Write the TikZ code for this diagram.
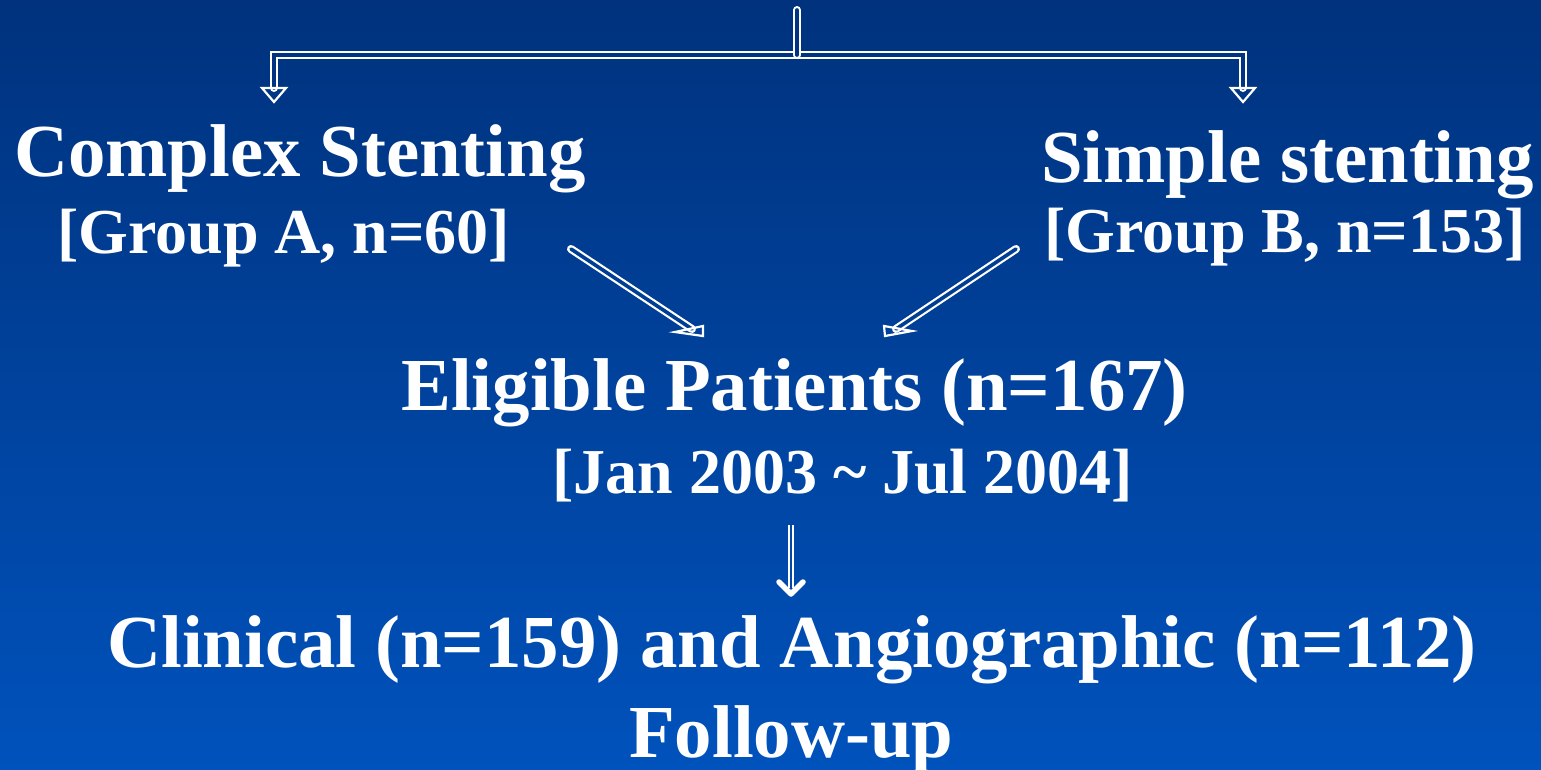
\documentclass[tikz,border=0pt]{standalone}
\usepackage{fontspec}
\setmainfont{Liberation Serif}
\definecolor{bgtop}{RGB}{0,50,125}
\definecolor{bgbot}{RGB}{0,82,188}
\definecolor{inTop}{RGB}{0,52,130}
\definecolor{inMid}{RGB}{0,62,148}
\definecolor{inBot}{RGB}{0,73,171}
\tikzset{
  dbl/.style={draw=white, line width=2.2pt, double distance=3.6pt, line cap=round, line join=miter},
  headshape/.style={draw=white, line width=2.2pt, line join=miter},
  lbl/.style={text=white, inner sep=0pt, anchor=base west, font=\bfseries\fontsize{74.8}{80}\selectfont},
  sublbl/.style={lbl, font=\bfseries\fontsize{64}{70}\selectfont}
}
\begin{document}
\begin{tikzpicture}[x=1pt,y=-1pt]
\shade[top color=bgtop,bottom color=bgbot] (0,0) rectangle (1541,769);
\useasboundingbox (0,0) rectangle (1541,769);

% texts
\node[lbl] (complex) at (14,176) {Complex Stenting};
\node[sublbl] (groupA) at (57,253) {[Group A, n=60]};
\node[lbl] (simple) at (1041,182) {Simple stenting};
\node[sublbl] (groupB) at (1044,252) {[Group B, n=153]};
\node[lbl] (eligible) at (401,410) {Eligible Patients (n=167)};
\node[sublbl] (dates) at (552,493) {[Jan 2003 \textasciitilde{} Jul 2004]};
\node[lbl] (clinical) at (107,667) {Clinical (n=159) and Angiographic (n=112)};
\node[lbl] (followup) at (629,757) {Follow-up};

% top split connector
\coordinate (src) at (797,10);
\coordinate (junc) at (797,55);
\coordinate (shaftA) at (274,88);
\coordinate (shaftB) at (1243,88);
\draw[dbl, double=inTop] (shaftA) |- (junc) -| (shaftB);
\draw[dbl, double=inTop] (src) -- (junc);
\draw[headshape] (shaftA) ++(-12,0) -- ++(24,0) -- ++(-12,14) -- cycle;
\draw[headshape] (shaftB) ++(-12,0) -- ++(24,0) -- ++(-12,14) -- cycle;

% diagonal arrows
\coordinate (tailL) at (571,249);
\coordinate (endL) at (692,329);
\draw[dbl, double=inMid] (tailL) -- (endL);
\draw[headshape] (endL) ++(-17,3) -- ++(28,-6) -- ++(0,10) -- cycle;

\coordinate (tailR) at (1016,249);
\coordinate (endR) at (896,329);
\draw[dbl, double=inMid] (tailR) -- (endR);
\draw[headshape] (endR) ++(-12,-3) -- ++(1,10) -- ++(27,-5) -- cycle;

% bottom arrow
\coordinate (dTop) at (791,525);
\coordinate (dEnd) at (791,588);
\draw[draw=white, line width=1.6pt, double=inBot, double distance=2.4pt] (dTop) -- (dEnd);
\draw[white, line width=5.5pt, line cap=round, line join=round] (dEnd) ++(-12,-6) -- ++(12,12) -- ++(12,-12);
\end{tikzpicture}
\end{document}
